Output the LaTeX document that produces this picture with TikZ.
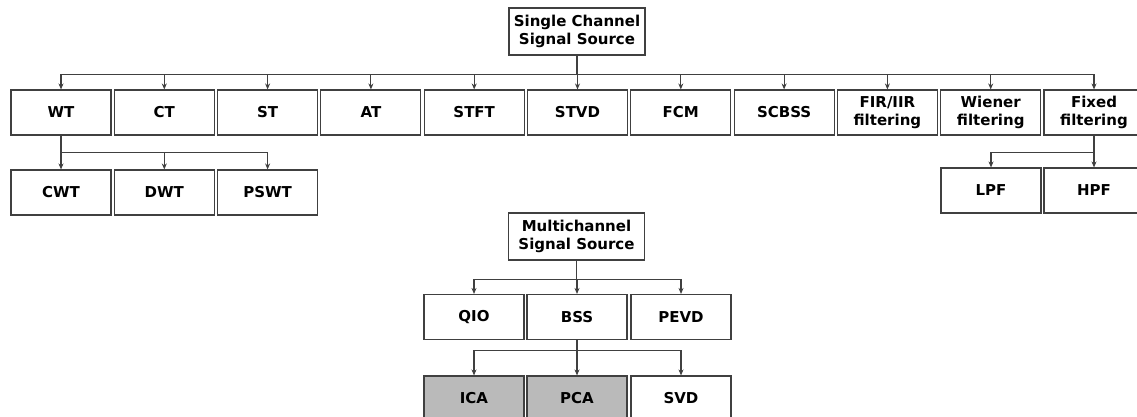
\documentclass[tikz,border=0pt]{standalone}
\usepackage{fontspec}
\setmainfont{DejaVu Sans}
\usetikzlibrary{arrows.meta}
\tikzset{
    blk/.style={draw=black!75,line width=1.1pt,minimum width=100pt,minimum height=45pt,
        align=center,inner sep=0pt,font=\fontsize{15}{17.5}\selectfont\bfseries},
    src/.style={blk,minimum width=136pt,minimum height=47pt},
    shd/.style={blk,fill=black!27},
    lnk/.style={draw=black!75,line width=1.1pt,-{Stealth[length=6pt,width=5pt]}}
}
\begin{document}
\begin{tikzpicture}[x=1pt,y=-1pt]
    \useasboundingbox (0,0) rectangle (1137,417);
    % single channel
    \node[src] (ss) at (577,31.5) {Single Channel\\Signal Source};
    \foreach \t [count=\i] in {WT,CT,ST,AT,STFT,STVD,FCM,SCBSS,{FIR/IIR\\filtering},{Wiener\\filtering},{Fixed\\filtering}}
        \node[blk] (s\i) at ({61+103.3*(\i-1)},112.5) {\t};
    \foreach \i in {1,...,11}\draw[lnk] (ss.south) -- ++(0,19) -| (s\i.north);

    \node[blk] (cwt) at (61,192.5) {CWT};
    \node[blk] (dwt) at (164.3,192.5) {DWT};
    \node[blk] (pswt) at (267.6,192.5) {PSWT};
    \foreach \x in {cwt,dwt,pswt}\draw[lnk] (s1.south) -- ++(0,17) -| (\x.north);

    \node[blk] (lpf) at (991,190.5) {LPF};
    \node[blk] (hpf) at (1094,190.5) {HPF};
    \foreach \x in {lpf,hpf}\draw[lnk] (s11.south) -- ++(0,17) -| (\x.north);

    % multichannel
    \node[src] (ms) at (576.5,236.5) {Multichannel\\Signal Source};
    \node[blk] (qio) at (474,317) {QIO};
    \node[blk] (bss) at (577,317) {BSS};
    \node[blk] (pevd) at (681,317) {PEVD};
    \foreach \x in {qio,bss,pevd}\draw[lnk] (ms.south) -- ++(0,19) -| (\x.north);

    \node[shd] (ica) at (474,398.5) {ICA};
    \node[shd] (pca) at (577,398.5) {PCA};
    \node[blk] (svd) at (681,398.5) {SVD};
    \foreach \x in {ica,pca,svd}\draw[lnk] (bss.south) -- ++(0,10) -| (\x.north);
\end{tikzpicture}
\end{document}
